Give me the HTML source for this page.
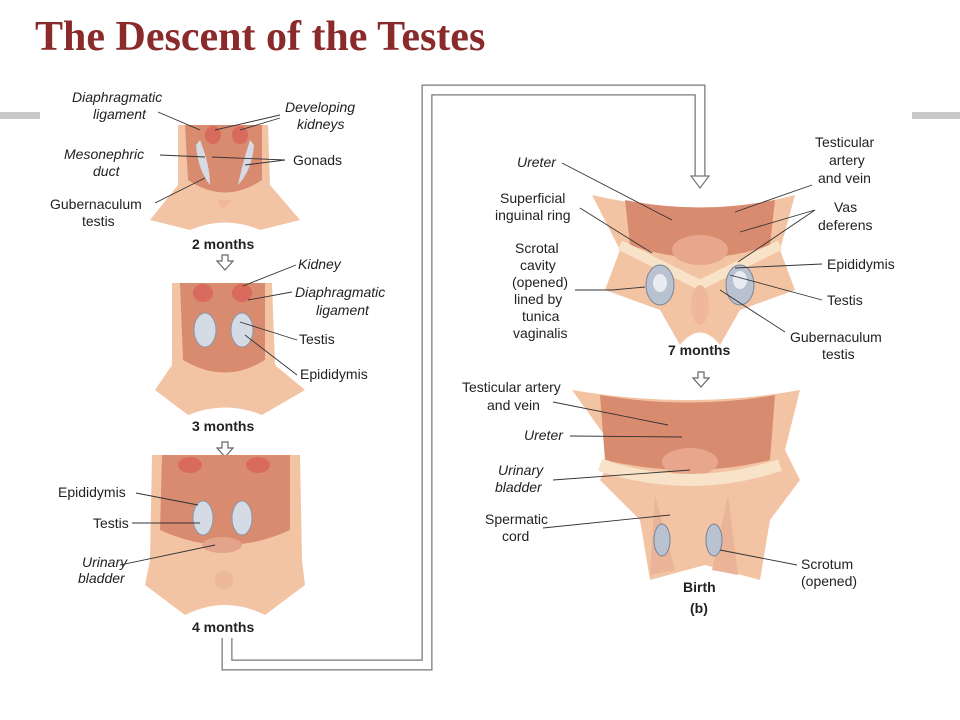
<!DOCTYPE html>
<html><head><style>
body{margin:0;background:#fff;}
svg{display:block;font-family:"Liberation Sans",Arial,sans-serif;}
.t{font-size:14px;fill:#222;}
.i{font-style:italic;}
.b{font-weight:bold;}
.l{stroke:#333;stroke-width:0.9;fill:none;}
</style></head><body>
<svg width="960" height="720" viewBox="0 0 960 720">
<text x="35" y="50" font-family="Liberation Serif,serif" font-weight="bold" font-size="42" fill="#8b2a2a">The Descent of the Testes</text>
<rect x="0" y="112" width="40" height="7" fill="#c8c8c8"/>
<rect x="912" y="112" width="48" height="7" fill="#c8c8c8"/>

<path d="M227 638 V665 H427 V90 H700 V180" stroke="#777" stroke-width="11" fill="none"/>
<path d="M227 636 V665 H427 V90 H700 V180" stroke="#fff" stroke-width="8.5" fill="none"/>
<path d="M691 176 L700 188 L709 176 Z" fill="#fff" stroke="#777" stroke-width="1.2"/>

<g fill="#fff" stroke="#666" stroke-width="1.2">
<path d="M222 255 h6 v6 h5 l-8 9 l-8 -9 h5z"/>
<path d="M222 442 h6 v6 h5 l-8 9 l-8 -9 h5z"/>
<path d="M698 372 h6 v6 h5 l-8 9 l-8 -9 h5z"/>
</g>

<g>
<path d="M178 125 L268 125 L270 185 L300 220 L260 230 Q225 215 190 230 L150 220 L178 185Z" fill="#f3c4a4"/>
<path d="M185 125 L262 125 L262 180 Q225 205 188 180Z" fill="#d98b70"/>
<ellipse cx="213" cy="135" rx="8" ry="9" fill="#d86a5e"/>
<ellipse cx="240" cy="135" rx="8" ry="9" fill="#d86a5e"/>
<path d="M200 140 Q210 165 210 185 Q198 170 196 145Z" fill="#d5dbe5"/>
<path d="M250 140 Q242 165 238 185 Q252 170 254 145Z" fill="#d5dbe5"/>
<path d="M218 200 Q222 215 232 200" fill="#f0b79c"/>
</g>
<text class="t i" x="72" y="102">Diaphragmatic</text>
<text class="t i" x="93" y="119">ligament</text>
<text class="t i" x="285" y="112">Developing</text>
<text class="t i" x="297" y="129">kidneys</text>
<text class="t i" x="64" y="159">Mesonephric</text>
<text class="t i" x="93" y="176">duct</text>
<text class="t" x="293" y="165">Gonads</text>
<text class="t" x="50" y="209">Gubernaculum</text>
<text class="t" x="82" y="226">testis</text>
<text class="t b" x="192" y="249">2 months</text>
<path class="l" d="M158 112 L200 130 M280 115 L215 130 M280 118 L240 130 M160 155 L205 157 M285 160 L212 157 M285 160 L245 165 M155 203 L205 178"/>

<g>
<path d="M172 283 L272 283 L275 365 L305 390 L262 415 Q225 400 188 415 L155 390 L172 365Z" fill="#f3c4a4"/>
<path d="M180 283 L265 283 L265 360 Q225 385 183 360Z" fill="#d98b70"/>
<ellipse cx="203" cy="293" rx="10" ry="9" fill="#d86a5e"/>
<ellipse cx="242" cy="293" rx="10" ry="9" fill="#d86a5e"/>
<ellipse cx="205" cy="330" rx="11" ry="17" fill="#d5dbe5" stroke="#8a96a8"/>
<ellipse cx="242" cy="330" rx="11" ry="17" fill="#d5dbe5" stroke="#8a96a8"/>
</g>
<text class="t i" x="298" y="269">Kidney</text>
<text class="t i" x="295" y="297">Diaphragmatic</text>
<text class="t i" x="316" y="315">ligament</text>
<text class="t" x="299" y="344">Testis</text>
<text class="t" x="300" y="379">Epididymis</text>
<text class="t b" x="192" y="431">3 months</text>
<path class="l" d="M296 265 L243 286 M292 292 L248 300 M297 340 L240 322 M297 375 L245 335"/>

<g>
<path d="M152 455 L300 455 L302 560 L305 585 L265 615 Q225 595 185 615 L145 585 L150 560Z" fill="#f3c4a4"/>
<path d="M162 455 L290 455 L290 530 Q225 560 160 530Z" fill="#d98b70"/>
<ellipse cx="190" cy="465" rx="12" ry="8" fill="#d86a5e"/>
<ellipse cx="258" cy="465" rx="12" ry="8" fill="#d86a5e"/>
<ellipse cx="203" cy="518" rx="10" ry="17" fill="#d5dbe5" stroke="#8a96a8"/>
<ellipse cx="242" cy="518" rx="10" ry="17" fill="#d5dbe5" stroke="#8a96a8"/>
<ellipse cx="222" cy="545" rx="20" ry="8" fill="#e4a48b"/>
<ellipse cx="224" cy="580" rx="9" ry="10" fill="#eeb89a"/>
</g>
<text class="t" x="58" y="497">Epididymis</text>
<text class="t" x="93" y="528">Testis</text>
<text class="t i" x="82" y="567">Urinary</text>
<text class="t i" x="78" y="583">bladder</text>
<text class="t b" x="192" y="632">4 months</text>
<path class="l" d="M136 493 L198 505 M132 523 L200 523 M120 565 L215 545"/>

<g>
<path d="M592 195 Q700 220 795 195 L780 250 L795 290 L740 310 L720 345 Q700 320 680 345 L660 310 L605 290 L620 250Z" fill="#f3c4a4"/>
<path d="M625 200 Q700 215 775 200 L770 245 Q700 270 630 245Z" fill="#d98b70"/>
<ellipse cx="700" cy="250" rx="28" ry="15" fill="#e8a78c"/>
<path d="M620 245 L700 285 L780 245" stroke="#f8e2c8" stroke-width="10" fill="none"/>
<ellipse cx="660" cy="285" rx="14" ry="20" fill="#b9c2d1" stroke="#7a8496"/>
<ellipse cx="740" cy="285" rx="14" ry="20" fill="#b9c2d1" stroke="#7a8496"/>
<ellipse cx="660" cy="283" rx="7" ry="9" fill="#e8ecf2"/>
<ellipse cx="740" cy="280" rx="7" ry="9" fill="#e8ecf2"/>
<ellipse cx="700" cy="305" rx="9" ry="20" fill="#efb79c"/>
</g>
<text class="t i" x="517" y="167">Ureter</text>
<text class="t" x="500" y="203">Superficial</text>
<text class="t" x="495" y="220">inguinal ring</text>
<text class="t" x="515" y="253">Scrotal</text>
<text class="t" x="520" y="270">cavity</text>
<text class="t" x="512" y="287">(opened)</text>
<text class="t" x="514" y="304">lined by</text>
<text class="t" x="522" y="321">tunica</text>
<text class="t" x="513" y="338">vaginalis</text>
<text class="t" x="815" y="147">Testicular</text>
<text class="t" x="829" y="165">artery</text>
<text class="t" x="818" y="183">and vein</text>
<text class="t" x="834" y="212">Vas</text>
<text class="t" x="818" y="230">deferens</text>
<text class="t" x="827" y="269">Epididymis</text>
<text class="t" x="827" y="305">Testis</text>
<text class="t" x="790" y="342">Gubernaculum</text>
<text class="t" x="822" y="359">testis</text>
<text class="t b" x="668" y="355">7 months</text>
<path class="l" d="M562 163 L672 220 M580 208 L652 253 M575 290 L612 290 L645 287 M812 185 L735 212 M815 210 L740 232 M815 210 L738 262 M822 264 L735 268 M822 300 L730 275 M785 332 L720 290"/>

<g>
<path d="M572 390 Q690 410 800 390 L785 450 L800 480 L770 520 L760 580 L705 565 L650 580 L640 520 L600 480 L615 450Z" fill="#f3c4a4"/>
<path d="M600 395 Q690 410 775 395 L770 460 Q690 480 605 460Z" fill="#d98b70"/>
<ellipse cx="690" cy="462" rx="28" ry="14" fill="#e8a78c"/>
<path d="M600 465 Q690 495 780 465" stroke="#f8e2c8" stroke-width="12" fill="none"/>
<path d="M655 495 L675 570 L650 575Z" fill="#eab498"/>
<path d="M728 495 L712 570 L738 575Z" fill="#eab498"/>
<ellipse cx="662" cy="540" rx="8" ry="16" fill="#b9c2d1" stroke="#7a8496"/>
<ellipse cx="714" cy="540" rx="8" ry="16" fill="#b9c2d1" stroke="#7a8496"/>
</g>
<text class="t" x="462" y="392">Testicular artery</text>
<text class="t" x="487" y="410">and vein</text>
<text class="t i" x="524" y="440">Ureter</text>
<text class="t i" x="498" y="475">Urinary</text>
<text class="t i" x="495" y="492">bladder</text>
<text class="t" x="485" y="524">Spermatic</text>
<text class="t" x="502" y="541">cord</text>
<text class="t" x="801" y="569">Scrotum</text>
<text class="t" x="801" y="586">(opened)</text>
<text class="t b" x="683" y="592">Birth</text>
<text class="t b" x="690" y="613">(b)</text>
<path class="l" d="M553 402 L668 425 M570 436 L682 437 M553 480 L690 470 M543 528 L670 515 M797 565 L720 550"/>
</svg>
</body></html>
